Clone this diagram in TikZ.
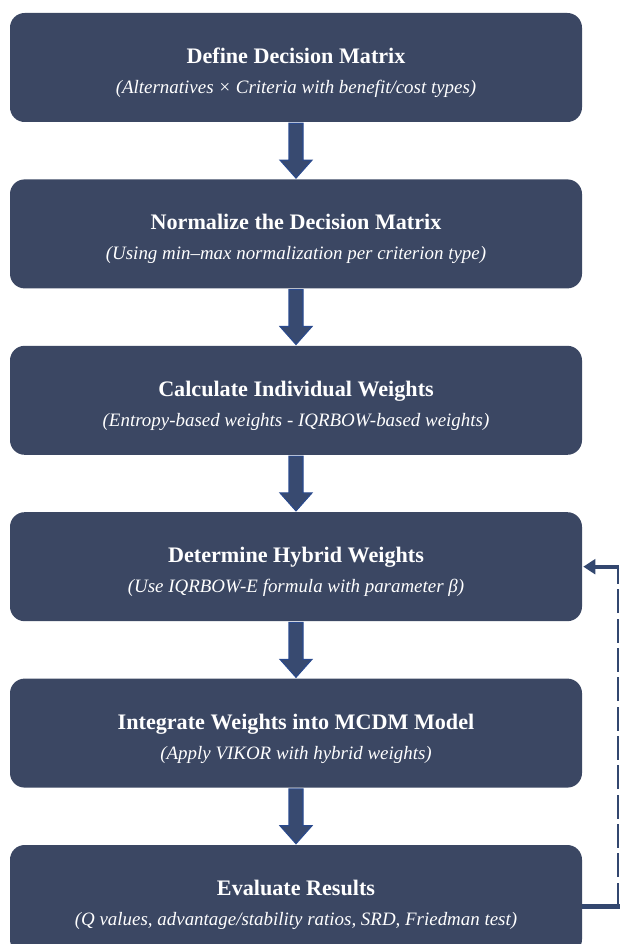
\documentclass[tikz,border=0pt]{standalone}
\usepackage{fontspec}
\setmainfont{Liberation Serif}
\usetikzlibrary{calc,arrows.meta}

\definecolor{boxfill}{HTML}{3B4763}
\definecolor{arrowedge}{HTML}{2A4A8E}
\definecolor{arrowfill}{HTML}{384A70}
\definecolor{loopcol}{HTML}{33476F}

\tikzset{
  stepbox/.style={fill=boxfill, rounded corners=11pt, inner sep=0pt,
    minimum width=429pt, minimum height=81.75pt, text=white, align=center,
    font=\fontsize{14.2}{22.5}\selectfont},
  blockarrow/.style={fill=arrowfill, draw=arrowedge, line width=0.8pt, line join=miter},
  looprail/.style={draw=loopcol, line width=3.2pt},
  loopdash/.style={draw=loopcol, line width=1.9pt, dash pattern=on 18pt off 4pt},
  looparrow/.style={draw=loopcol, line width=3pt, -{Triangle[length=9pt,width=11pt]}}
}

% block arrow between two stacked boxes
\newcommand\flowarrow[2]{%
  \draw[blockarrow]
    ($(#1.south)+(-7,1)$) -- ($(#1.south)+(7,1)$) --
    ($(#2.north)+(7,-19)$) -- ($(#2.north)+(16,-19)$) --
    ($(#2.north)+(0,-1)$) -- ($(#2.north)+(-16,-19)$) --
    ($(#2.north)+(-7,-19)$) -- cycle;}

% bold title over an italic note; the invisible rule lowers the pair a little
\newcommand\steptext[2]{{\fontsize{16.6}{22.5}\selectfont\rule{0pt}{19.5pt}\bfseries #1}\\{\itshape #2}}

\begin{document}
\begin{tikzpicture}[x=0.75pt, y=-0.75pt]
  \useasboundingbox (0,0) rectangle (619,944);

  \node[stepbox] (b1) at (296,67.5)
    {\steptext{Define Decision Matrix}{(Alternatives × Criteria with benefit/cost types)}};
  \node[stepbox] (b2) at (296,233.9)
    {\steptext{Normalize the Decision Matrix}{(Using min–max normalization per criterion type)}};
  \node[stepbox] (b3) at (296,400.3)
    {\steptext{Calculate Individual Weights}{(Entropy-based weights - IQRBOW-based weights)}};
  \node[stepbox] (b4) at (296,566.7)
    {\steptext{Determine Hybrid Weights}{(Use IQRBOW-E formula with parameter β)}};
  \node[stepbox] (b5) at (296,733.1)
    {\steptext{Integrate Weights into MCDM Model}{(Apply VIKOR with hybrid weights)}};
  \node[stepbox] (b6) at (296,899.5)
    {\steptext{Evaluate Results}{(Q values, advantage/stability ratios, SRD, Friedman test)}};

  \flowarrow{b1}{b2}
  \flowarrow{b2}{b3}
  \flowarrow{b3}{b4}
  \flowarrow{b4}{b5}
  \flowarrow{b5}{b6}

  % feedback loop from the evaluation back to the hybrid weights
  \coordinate (railbot) at ($(b6.east)+(35.5,7)$);
  \coordinate (railtop) at ($(b4.east)+(35.5,0)$);
  \coordinate (railin) at ($(b4.east)+(37,0)$);
  \draw[looprail] ($(b6.east)+(0,7)$) -- ($(railbot)+(2,0)$);
  \draw[loopdash] (railbot) -- (railtop);
  \draw[looparrow] (railin) -- ($(b4.east)+(1,0)$);
\end{tikzpicture}
\end{document}
